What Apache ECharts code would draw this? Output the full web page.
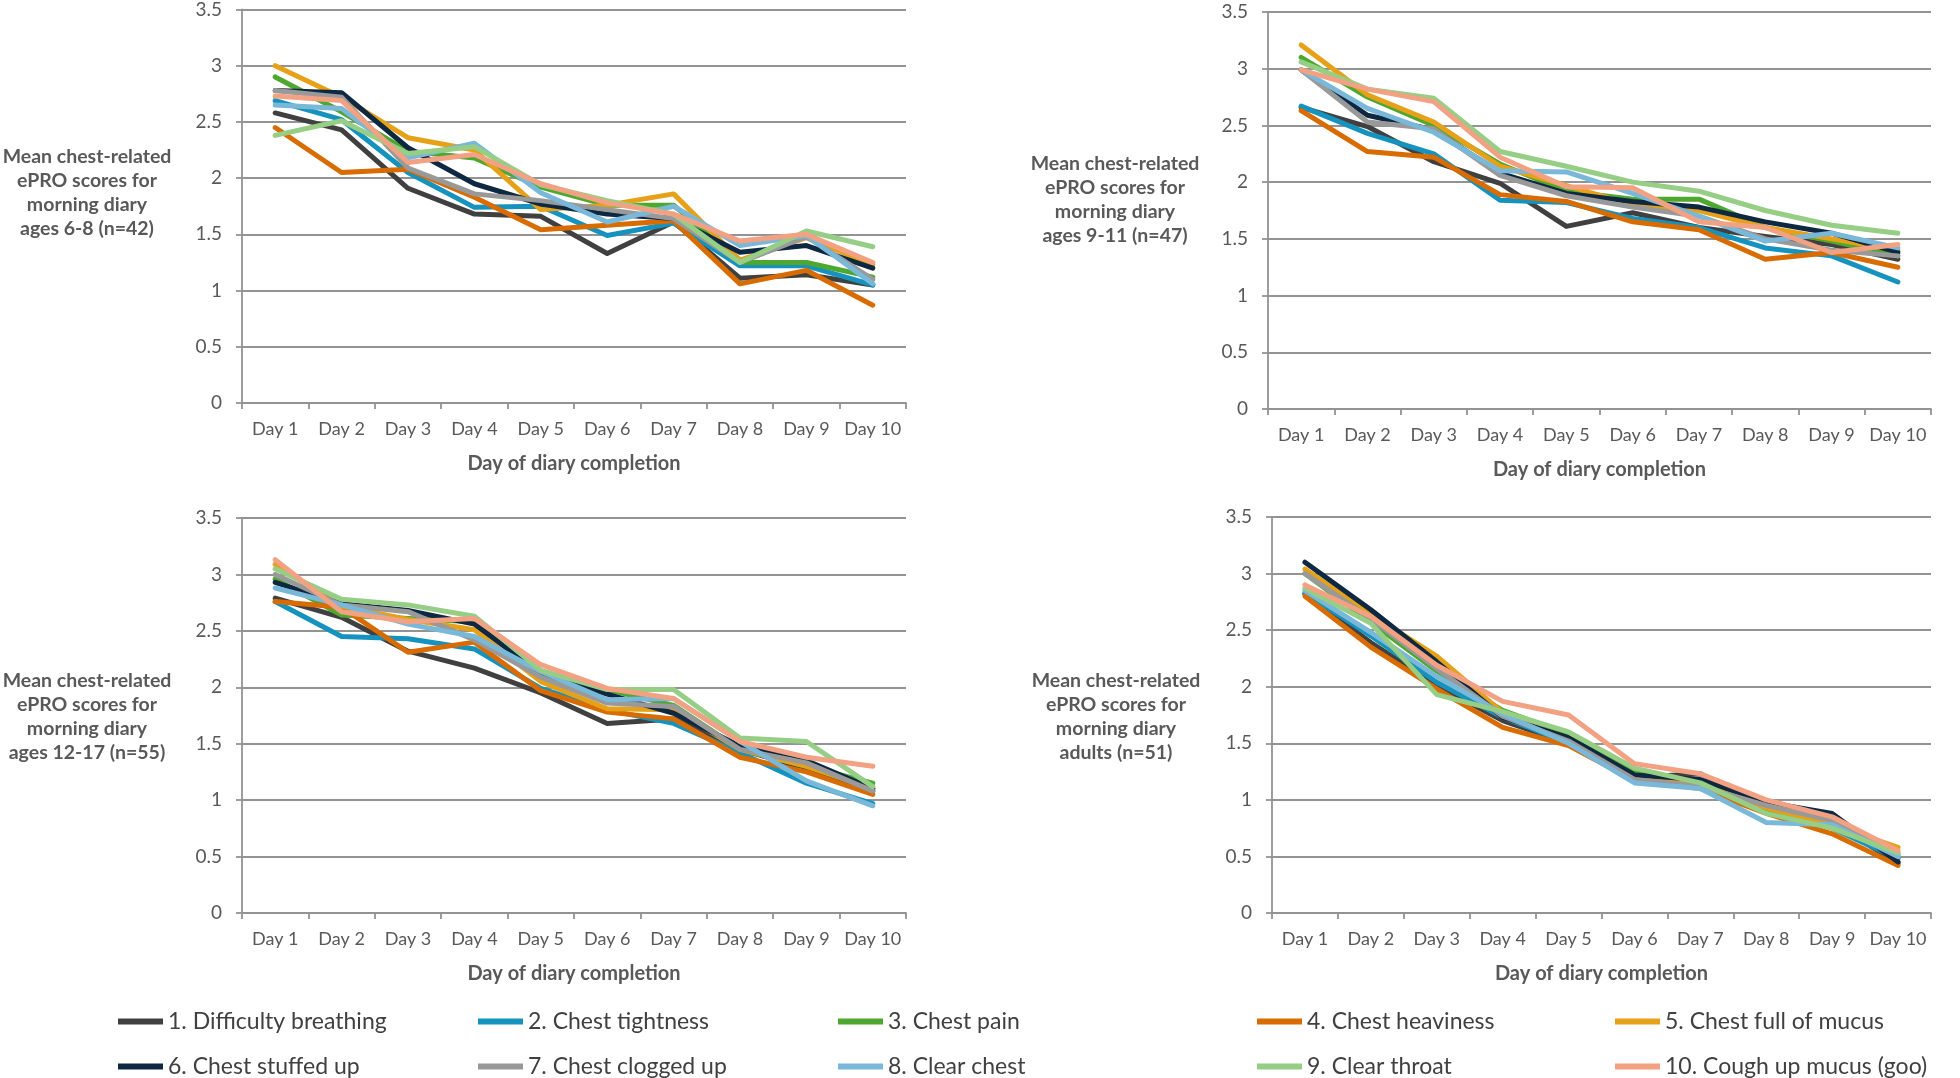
<!DOCTYPE html>
<html>
<head>
<meta charset="utf-8">
<script src="https://cdn.jsdelivr.net/npm/echarts@6/dist/echarts.min.js"></script>
<style>
html,body{margin:0;padding:0;background:#fff;}
#chart{width:1960px;height:1078px;}
</style>
</head>
<body>
<div id="chart"></div>
<script>
const days = ['Day 1','Day 2','Day 3','Day 4','Day 5','Day 6','Day 7','Day 8','Day 9','Day 10'];
const itemNames = ['1. Difficulty breathing','2. Chest tightness','3. Chest pain','4. Chest heaviness','5. Chest full of mucus','6. Chest stuffed up','7. Chest clogged up','8. Clear chest','9. Clear throat','10. Cough up mucus (goo)'];
const itemColors = ['#404040','#1593BE','#4EA72E','#D86C00','#E6A118','#0E2841','#999999','#7AB8D9','#95CE84','#F2A283'];
const yTicks = [0,0.5,1,1.5,2,2.5,3,3.5];
const panelTitles = [
  'Mean chest-related\nePRO scores for\nmorning diary\nages 6-8 (n=42)',
  'Mean chest-related\nePRO scores for\nmorning diary\nages 9-11 (n=47)',
  'Mean chest-related\nePRO scores for\nmorning diary\nages 12-17 (n=55)',
  'Mean chest-related\nePRO scores for\nmorning diary\nadults (n=51)'
];
const xTitle = 'Day of diary completion';

const ages6to8 = [
  [2.58,2.43,1.91,1.68,1.66,1.33,1.61,1.11,1.14,1.05],
  [2.69,2.52,2.05,1.74,1.75,1.49,1.60,1.22,1.22,1.05],
  [2.90,2.59,2.24,2.18,1.92,1.76,1.76,1.25,1.25,1.12],
  [2.45,2.05,2.08,1.83,1.54,1.58,1.62,1.06,1.18,0.87],
  [3.00,2.72,2.36,2.25,1.72,1.76,1.86,1.27,1.47,1.23],
  [2.78,2.76,2.27,1.95,1.77,1.68,1.64,1.34,1.40,1.20],
  [2.78,2.72,2.09,1.86,1.80,1.72,1.64,1.25,1.48,1.10],
  [2.65,2.62,2.18,2.31,1.87,1.61,1.75,1.40,1.49,1.06],
  [2.38,2.51,2.22,2.28,1.94,1.80,1.68,1.25,1.53,1.39],
  [2.73,2.69,2.14,2.21,1.95,1.78,1.68,1.44,1.50,1.25]
];
const ages9to11 = [
  [2.66,2.49,2.18,1.99,1.61,1.73,1.60,1.52,1.45,1.32],
  [2.67,2.43,2.25,1.84,1.82,1.68,1.60,1.42,1.35,1.12],
  [3.10,2.75,2.50,2.16,1.92,1.85,1.85,1.60,1.48,1.35],
  [2.63,2.27,2.22,1.89,1.83,1.65,1.58,1.32,1.38,1.25],
  [3.21,2.77,2.53,2.14,1.97,1.80,1.75,1.60,1.50,1.40],
  [2.99,2.59,2.46,2.08,1.90,1.83,1.78,1.65,1.55,1.38],
  [2.99,2.53,2.47,2.06,1.88,1.78,1.70,1.50,1.40,1.35],
  [2.99,2.65,2.44,2.10,2.09,1.90,1.70,1.48,1.55,1.42],
  [3.06,2.82,2.74,2.27,2.14,2.00,1.92,1.75,1.62,1.55],
  [2.99,2.82,2.71,2.22,1.96,1.95,1.65,1.60,1.38,1.45]
];
const ages12to17 = [
  [2.79,2.62,2.32,2.17,1.95,1.68,1.72,1.45,1.28,1.08],
  [2.76,2.45,2.43,2.34,1.99,1.80,1.68,1.42,1.15,0.97],
  [2.96,2.64,2.61,2.58,2.11,1.98,1.84,1.45,1.30,1.15],
  [2.76,2.71,2.31,2.40,1.97,1.78,1.72,1.38,1.25,1.05],
  [3.09,2.72,2.60,2.51,2.05,1.81,1.80,1.45,1.30,1.10],
  [2.93,2.74,2.68,2.56,2.12,1.94,1.77,1.48,1.35,1.10],
  [3.00,2.73,2.67,2.42,2.09,1.86,1.83,1.45,1.33,1.08],
  [2.88,2.73,2.56,2.45,2.14,1.89,1.90,1.52,1.17,0.95],
  [3.05,2.78,2.73,2.63,2.15,1.98,1.98,1.55,1.52,1.12],
  [3.13,2.67,2.58,2.61,2.20,1.99,1.90,1.52,1.38,1.30]
];
const adults = [
  [2.82,2.39,2.01,1.70,1.50,1.20,1.23,0.95,0.80,0.44],
  [2.83,2.45,2.04,1.73,1.50,1.20,1.12,0.90,0.75,0.48],
  [3.00,2.57,2.14,1.79,1.58,1.25,1.16,0.90,0.78,0.52],
  [2.80,2.35,1.98,1.64,1.48,1.17,1.10,0.88,0.70,0.42],
  [3.04,2.64,2.27,1.77,1.52,1.20,1.15,0.93,0.78,0.58],
  [3.10,2.68,2.22,1.73,1.55,1.22,1.18,0.98,0.88,0.45],
  [3.00,2.60,2.16,1.74,1.52,1.18,1.12,0.95,0.82,0.50],
  [2.85,2.48,2.09,1.76,1.50,1.15,1.10,0.80,0.78,0.50],
  [2.87,2.56,1.93,1.78,1.60,1.28,1.15,0.88,0.75,0.53],
  [2.90,2.62,2.19,1.87,1.75,1.32,1.23,1.00,0.85,0.55]
];
const panels = [ages6to8, ages9to11, ages12to17, adults];

// layout (pixels)
const gridBoxes = [
  {left:242, top:7, width:664, height:396},
  {left:1268, top:12, width:663, height:397},
  {left:242, top:518, width:664, height:395},
  {left:1272, top:517, width:659, height:396}
];
const titleCenters = [[87,193],[1115,200],[87,717],[1116,717]];
const legendCols = [113, 473, 833, 1252, 1610];
const legendRows = [1005, 1050];

const FONT = 'Lato';
const axisGray = '#939393';
const textGray = '#595959';

const chart = echarts.init(document.getElementById('chart'), null, {renderer:'canvas'});

const grids = gridBoxes.map(b => ({left:b.left, top:b.top, width:b.width, height:b.height, containLabel:false}));
const xAxes = gridBoxes.map((b,i) => ({
  type:'category', gridIndex:i, data:days, boundaryGap:true,
  axisLine:{show:true, lineStyle:{color:axisGray, width:1.8}},
  axisTick:{show:true, alignWithLabel:false, interval:0, length:6, lineStyle:{color:axisGray, width:1.8}},
  axisLabel:{color:textGray, fontSize:18, fontFamily:FONT, margin:17, interval:0},
  name:xTitle, nameLocation:'middle', nameGap:51,
  nameTextStyle:{color:textGray, fontSize:20, fontWeight:'bold', fontFamily:FONT}
}));
const yAxes = gridBoxes.map((b,i) => ({
  type:'value', gridIndex:i, min:yTicks[0], max:yTicks[yTicks.length-1], interval:0.5,
  axisLine:{show:true, lineStyle:{color:axisGray, width:1.8}},
  axisTick:{show:true, length:6, lineStyle:{color:axisGray, width:1.8}},
  axisLabel:{color:textGray, fontSize:19, fontFamily:FONT, margin:20},
  splitLine:{show:true, lineStyle:{color:axisGray, width:1.8}}
}));

const series = [];
panels.forEach((panel, pi) => {
  panel.forEach((vals, si) => {
    series.push({
      name:itemNames[si], type:'line', xAxisIndex:pi, yAxisIndex:pi,
      data:vals, symbol:'none', smooth:false,
      lineStyle:{color:itemColors[si], width:5, cap:'round', join:'round'},
      itemStyle:{color:itemColors[si]},
      emphasis:{disabled:true}, animation:false
    });
  });
});

const legends = itemNames.map((n, i) => ({
  data:[{name:n, icon:'rect'}],
  left:legendCols[i % 5], top:legendRows[Math.floor(i/5)],
  itemWidth:45, itemHeight:6, itemGap:0,
  textStyle:{color:'#404040', fontSize:23, fontFamily:FONT},
  selectedMode:false
}));

const graphics = panelTitles.map((t, i) => ({
  type:'text', x:titleCenters[i][0], y:titleCenters[i][1],
  style:{text:t, fill:textGray, font:'bold 19.5px ' + FONT, textAlign:'center', textVerticalAlign:'middle', lineHeight:24}
}));

chart.setOption({
  backgroundColor:'#ffffff',
  animation:false,
  grid:grids, xAxis:xAxes, yAxis:yAxes, series:series,
  legend:legends,
  graphic:graphics
});
</script>
</body>
</html>
